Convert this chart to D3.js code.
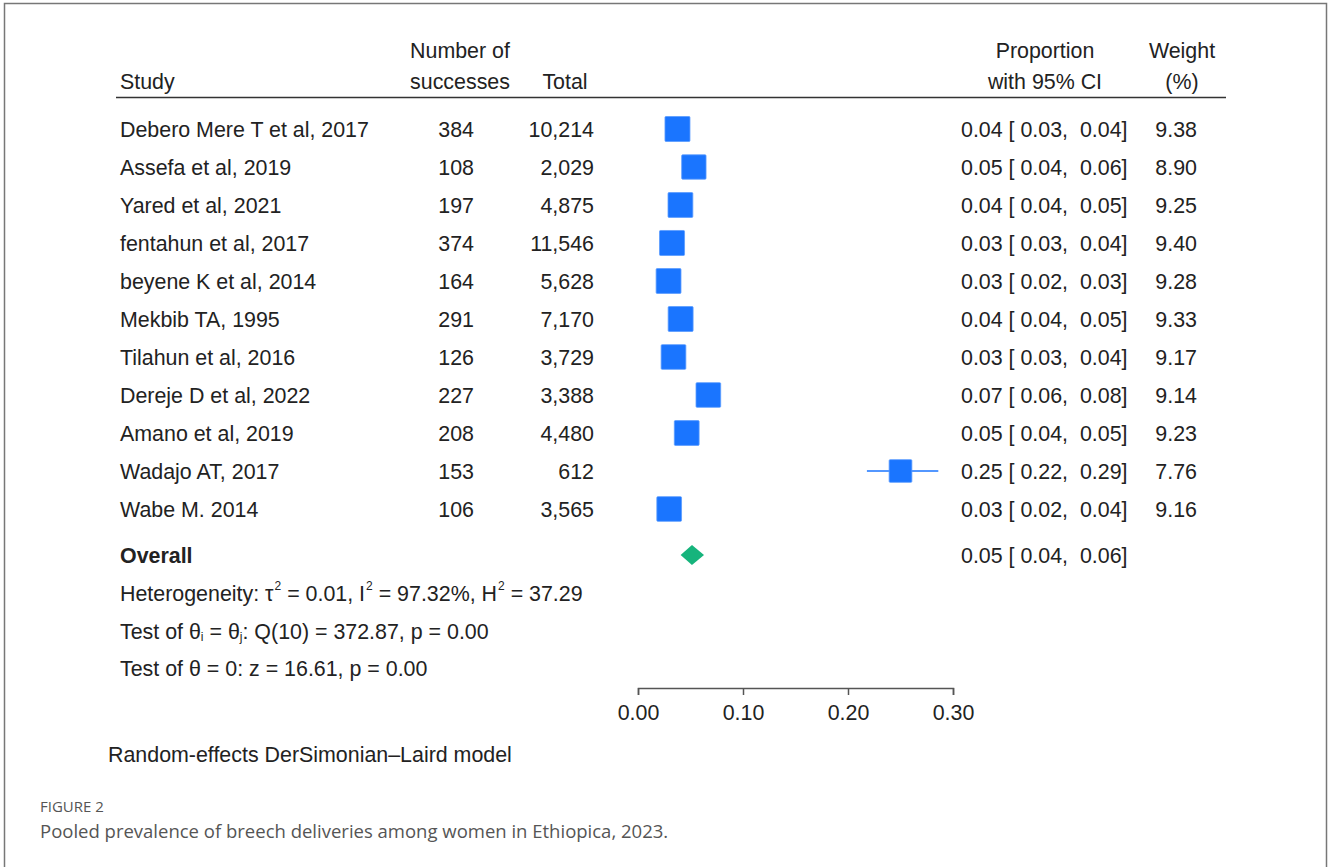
<!DOCTYPE html>
<html>
<head>
<meta charset="utf-8">
<script src="https://cdnjs.cloudflare.com/ajax/libs/d3/7.8.5/d3.min.js"></script>
<style>
  html, body { margin: 0; padding: 0; background: #fff; }
  svg { display: block; }
  text { font-family: "Liberation Sans", Arial, sans-serif; fill: #222; white-space: pre; }
  .cap { font-family: "Open Sans", "Noto Sans", sans-serif; fill: #555; }
</style>
</head>
<body>
<svg id="chart" width="1328" height="867"></svg>
<script>
// Study-level data for the forest plot
const studies = [
  "Debero Mere T et al, 2017", "Assefa et al, 2019", "Yared et al, 2021",
  "fentahun et al, 2017", "beyene K et al, 2014", "Mekbib TA, 1995",
  "Tilahun et al, 2016", "Dereje D et al, 2022", "Amano et al, 2019",
  "Wadajo AT, 2017", "Wabe M. 2014"
];
const successes = ["384", "108", "197", "374", "164", "291", "126", "227", "208", "153", "106"];
const totals = ["10,214", "2,029", "4,875", "11,546", "5,628", "7,170", "3,729", "3,388", "4,480", "612", "3,565"];
const proportion = [0.0376, 0.0532, 0.0404, 0.0324, 0.0291, 0.0406, 0.0338, 0.0670, 0.0464, 0.2500, 0.0297];
const ciLower = [0.0339, 0.0435, 0.0352, 0.0292, 0.0247, 0.0360, 0.0280, 0.0586, 0.0403, 0.2180, 0.0242];
const ciUpper = [0.0413, 0.0630, 0.0459, 0.0356, 0.0335, 0.0452, 0.0396, 0.0754, 0.0526, 0.2860, 0.0353];
const weights = [9.38, 8.90, 9.25, 9.40, 9.28, 9.33, 9.17, 9.14, 9.23, 7.76, 9.16];

// Pooled estimate
const overall = { est: 0.0514, lo: 0.0406, hi: 0.0629 };

// Axis ticks
const axisTicks = [0, 0.1, 0.2, 0.3];

const svg = d3.select("#chart");
const fmt = d3.format(".2f");

// Frame around the figure
svg.append("path")
  .attr("d", "M4.5,867 L4.5,3.5 L1326.5,3.5 L1326.5,867")
  .attr("fill", "none").attr("stroke", "#777").attr("stroke-width", 1.5);

const x = d3.scaleLinear().domain([0, 0.3]).range([638, 953]);
const y = d3.scalePoint().domain(d3.range(studies.length)).range([129, 509]);
const size = d3.scaleSqrt().domain([0, 9.38]).range([0, 25]);

const fs = 21.4;

// Header
const hdr = svg.append("g").style("font-size", fs + "px");
hdr.append("text").attr("x", 120).attr("y", 89).text("Study");
hdr.append("text").attr("x", 460).attr("y", 58).attr("text-anchor", "middle").text("Number of");
hdr.append("text").attr("x", 460).attr("y", 89).attr("text-anchor", "middle").text("successes");
hdr.append("text").attr("x", 565).attr("y", 89).attr("text-anchor", "middle").text("Total");
hdr.append("text").attr("x", 1045).attr("y", 58).attr("text-anchor", "middle").text("Proportion");
hdr.append("text").attr("x", 1045).attr("y", 89).attr("text-anchor", "middle").text("with 95% CI");
hdr.append("text").attr("x", 1182).attr("y", 58).attr("text-anchor", "middle").text("Weight");
hdr.append("text").attr("x", 1182).attr("y", 89).attr("text-anchor", "middle").text("(%)");
svg.append("line").attr("x1", 116).attr("x2", 1226).attr("y1", 97.5).attr("y2", 97.5)
  .attr("stroke", "#333").attr("stroke-width", 1.5);

// Study rows
const rows = svg.append("g").selectAll("g").data(d3.range(studies.length)).join("g")
  .attr("transform", i => `translate(0,${y(i)})`)
  .style("font-size", fs + "px");

rows.append("text").attr("x", 120).attr("dy", "0.36em").text(i => studies[i]);
rows.append("text").attr("x", 474).attr("dy", "0.36em").attr("text-anchor", "end").text(i => successes[i]);
rows.append("text").attr("x", 594).attr("dy", "0.36em").attr("text-anchor", "end").text(i => totals[i]);
rows.append("text").attr("x", 961).attr("dy", "0.36em")
  .text(i => `${fmt(proportion[i])} [ ${fmt(ciLower[i])},  ${fmt(ciUpper[i])}]`);
rows.append("text").attr("x", 1197).attr("dy", "0.36em").attr("text-anchor", "end").text(i => fmt(weights[i]));

rows.append("line")
  .attr("x1", i => x(ciLower[i])).attr("x2", i => x(ciUpper[i]))
  .attr("stroke", "#1a75ff").attr("stroke-width", 1.6);
rows.append("rect")
  .attr("x", i => x(proportion[i]) - size(weights[i]) / 2)
  .attr("y", i => -size(weights[i]) / 2)
  .attr("width", i => size(weights[i]))
  .attr("height", i => size(weights[i]))
  .attr("rx", 1)
  .attr("fill", "#1a75ff").attr("stroke", "#5a9cff").attr("stroke-width", 0.8);

// Overall row
const ov = svg.append("g").attr("transform", "translate(0,555)").style("font-size", fs + "px");
ov.append("text").attr("x", 120).attr("dy", "0.36em").style("font-weight", "bold").text("Overall");
ov.append("text").attr("x", 961).attr("dy", "0.36em")
  .text(`${fmt(overall.est)} [ ${fmt(overall.lo)},  ${fmt(overall.hi)}]`);
ov.append("path")
  .attr("d", `M${x(overall.lo)},0 L${x(overall.est)},-10 L${x(overall.hi)},0 L${x(overall.est)},10 Z`)
  .attr("fill", "#16b47c");

// Heterogeneity statistics
const st = svg.append("g").style("font-size", fs + "px");
const sup = 12;
const t1 = st.append("text").attr("x", 120).attr("y", 601);
t1.append("tspan").text("Heterogeneity: \u03c4");
t1.append("tspan").attr("dx", 1).attr("dy", -11).style("font-size", sup + "px").text("2");
t1.append("tspan").attr("dy", 11).text(" = 0.01, I");
t1.append("tspan").attr("dx", 1).attr("dy", -11).style("font-size", sup + "px").text("2");
t1.append("tspan").attr("dy", 11).text(" = 97.32%, H");
t1.append("tspan").attr("dx", 1).attr("dy", -11).style("font-size", sup + "px").text("2");
t1.append("tspan").attr("dy", 11).text(" = 37.29");

const t2 = st.append("text").attr("x", 120).attr("y", 639);
t2.append("tspan").text("Test of \u03b8");
t2.append("tspan").attr("dy", 2).style("font-size", sup + "px").text("i");
t2.append("tspan").attr("dy", -2).text(" = \u03b8");
t2.append("tspan").attr("dy", 2).style("font-size", sup + "px").text("j");
t2.append("tspan").attr("dy", -2).text(": Q(10) = 372.87, p = 0.00");

st.append("text").attr("x", 120).attr("y", 676).text("Test of \u03b8 = 0: z = 16.61, p = 0.00");

// Axis
const axis = svg.append("g").attr("transform", "translate(0,688)")
  .call(d3.axisBottom(x).tickValues(axisTicks).tickFormat(fmt).tickSize(7).tickSizeOuter(7).tickPadding(10));
axis.select(".domain").attr("stroke", "#555").attr("stroke-width", 1.5);
axis.selectAll(".tick line").attr("stroke", "#555").attr("stroke-width", 1.5);
axis.selectAll(".tick text").style("font-size", fs + "px").style("font-family", "'Liberation Sans', Arial, sans-serif").attr("fill", "#222");

// Model note
svg.append("text").attr("x", 108).attr("y", 762).style("font-size", fs + "px")
  .text("Random-effects DerSimonian\u2013Laird model");

// Caption
svg.append("text").attr("class", "cap").attr("x", 40).attr("y", 812).style("font-size", "15px")
  .text("FIGURE 2");
svg.append("text").attr("class", "cap").attr("x", 40).attr("y", 838).style("font-size", "18.5px")
  .text("Pooled prevalence of breech deliveries among women in Ethiopica, 2023.");
</script>
</body>
</html>
